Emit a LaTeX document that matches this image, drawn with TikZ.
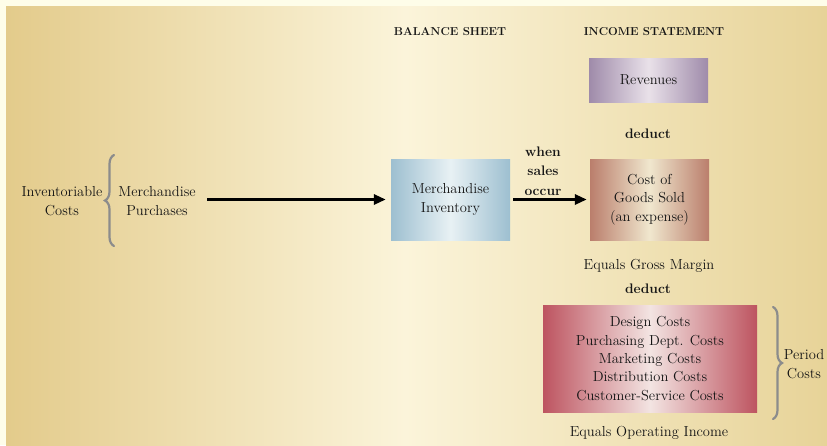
\documentclass[tikz,border=0pt]{standalone}
\usetikzlibrary{arrows.meta,decorations.pathreplacing}

\definecolor{pagecream}{HTML}{FEFDE9}
\definecolor{bgtan}{HTML}{E3CB8B}
\definecolor{bgtanright}{HTML}{E7D398}
\definecolor{bglight}{HTML}{FBF4DA}
\definecolor{textgray}{HTML}{151515}
\definecolor{bracegray}{HTML}{8C8C8C}
\definecolor{revedge}{HTML}{9F8BAA}
\definecolor{revmid}{HTML}{E9E1E9}
\definecolor{invedge}{HTML}{9DBFD0}
\definecolor{invmid}{HTML}{E8F1F4}
\definecolor{cogsedge}{HTML}{BA7E6C}
\definecolor{cogsmid}{HTML}{F0E7CE}
\definecolor{peredge}{HTML}{BD5460}
\definecolor{permid}{HTML}{F3E4E2}

\newcommand{\bodyfont}{\fontsize{14.5}{18.3}\selectfont}
\newcommand{\headfont}{\fontsize{11.5}{13}\selectfont\bfseries}
\newcommand{\notefont}{\fontsize{13.8}{19.5}\selectfont\bfseries}

\tikzset{
    costbox/.style={rectangle, align=center, inner sep=0pt, text=textgray, font=\bodyfont},
    heading/.style={text=textgray, font=\headfont},
    boldlabel/.style={align=center, text=textgray, font=\notefont},
    plainlabel/.style={align=center, text=textgray, font=\bodyfont},
    flow/.style={line width=3.5pt, black, -{Triangle[length=12pt,width=10pt]}},
    costbrace/.style={bracegray, line width=2.2pt, line cap=round, decorate, decoration={brace, amplitude=9pt}}
}

\begin{document}
\begin{tikzpicture}[x=1pt, y=-1pt]
        \useasboundingbox (0,0) rectangle (827,445);
        \fill[pagecream] (0,0) rectangle (827,445);
        \shade[left color=bgtan, right color=bglight] (6,6) rectangle (405,445);
        \shade[left color=bglight, right color=bgtanright] (405,6) rectangle (827,445);

        \node[heading] (balance) at (450,32) {BALANCE SHEET};
        \node[heading] (income) at (654,32) {INCOME STATEMENT};

        \node[costbox, minimum width=119pt, minimum height=44pt, left color=revedge, right color=revedge, middle color=revmid] (revenues) at (648.5,80) {Revenues};
        \node[boldlabel] (deducta) at (648,134) {deduct};

        \node[costbox, minimum width=119pt, minimum height=81pt, left color=invedge, right color=invedge, middle color=invmid] (inventory) at (450.5,199.5) {Merchandise\\Inventory};
        \node[costbox, minimum width=119pt, minimum height=81pt, left color=cogsedge, right color=cogsedge, middle color=cogsmid] (cogs) at (649.5,199.5) {Cost of\\Goods Sold\\(an expense)};
        \node[boldlabel] (sales) at (543,171) {when\\sales\\occur};

        \node[plainlabel] (inventoriable) at (62,201) {Inventoriable\\Costs};
        \node[plainlabel] (purchases) at (157,201) {Merchandise\\Purchases};

        \draw[flow, shorten <=8pt, shorten >=5pt] (purchases.east |- inventory.west) -- (inventory.west);
        \draw[flow, shorten <=3pt, shorten >=3pt] (inventory.east) -- (cogs.west);

        \node[plainlabel] (grossmargin) at (649,266) {Equals Gross Margin};
        \node[boldlabel] (deductb) at (648,289) {deduct};

        \node[costbox, minimum width=214pt, minimum height=107pt, left color=peredge, right color=peredge, middle color=permid] (periodbox) at (650,358.5) {Design Costs\\Purchasing Dept. Costs\\Marketing Costs\\Distribution Costs\\Customer-Service Costs};
        \node[plainlabel] (periodcosts) at (804,364) {Period\\Costs};
        \node[plainlabel] (operating) at (649,433) {Equals Operating Income};

        % braces
        \draw[costbrace] (114,246) -- (114,155);
        \draw[costbrace] (773,307) -- (773,419);

    \end{tikzpicture}
\end{document}
